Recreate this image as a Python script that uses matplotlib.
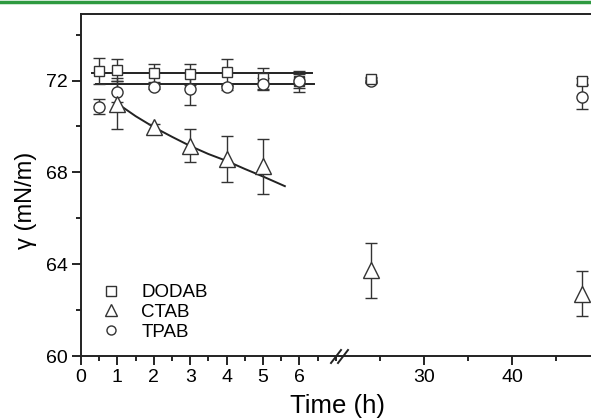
import matplotlib
matplotlib.use("Agg")
import matplotlib.pyplot as plt
from matplotlib.lines import Line2D
from matplotlib.ticker import MultipleLocator

plt.rcParams['font.family'] = ['Liberation Sans', 'DejaVu Sans']

# 短時間側のデータ (h)
t_short = [0.5, 1, 2, 3, 4, 5, 6]
dodab = [72.42, 72.46, 72.32, 72.27, 72.36, 72.10, 71.97]
dodab_err = [0.55, 0.5, 0.4, 0.45, 0.6, 0.45, 0.45]
tpab = [70.87, 71.52, 71.74, 71.62, 71.71, 71.85, 71.97]
tpab_err = [0.33, 0.45, 0.1, 0.7, 0.1, 0.25, 0.3]
t_ctab = [1, 2, 3, 4, 5]
ctab = [71.0, 69.97, 69.17, 68.6, 68.26]
ctab_err = [1.1, 0.15, 0.7, 1.0, 1.2]

# 長時間側のデータ
t_long = [24, 48]
dodab_long = [72.05, 71.97]
dodab_long_err = [0.1, 0.15]
tpab_long = [72.0, 71.3]
tpab_long_err = [0.1, 0.55]
ctab_long = [63.74, 62.72]
ctab_long_err = [1.2, 0.97]

# フィット線
dodab_fit_x = [0.3, 6.35]
dodab_fit = 72.32
tpab_fit_x = [0.4, 6.4]
tpab_fit = 71.85
ctab_fit_x = [1, 1.5, 2, 2.5, 3, 3.5, 4, 4.5, 5, 5.6]
ctab_fit_y = [71.0, 70.45, 69.97, 69.55, 69.15, 68.8, 68.5, 68.15, 67.82, 67.4]

W, H = 591, 419
fig = plt.figure(figsize=(W / 100, H / 100), dpi=100)

# 上部の緑線
fig.add_artist(Line2D([0, 1], [1 - 2.5 / H, 1 - 2.5 / H], color='#2e9a40', lw=2.5,
                      transform=fig.transFigure))

bottom = (H - 356) / H
height = 342 / H
ax1 = fig.add_axes([81 / W, bottom, 259 / W, height])
ax2 = fig.add_axes([340 / W, bottom, 270 / W, height])

c = '#333333'
mk = dict(mfc='white', mec=c, mew=1.0, ls='none', zorder=3)
eb = dict(fmt='none', ecolor=c, elinewidth=1.0, capsize=4, capthick=1.0, zorder=2)

for ax in (ax1, ax2):
    ax.set_ylim(60, 74.9)
    ax.tick_params(which='both', direction='out', width=1.2, labelsize=14, top=False, right=False)
    ax.tick_params(which='major', length=6.5, pad=3)
    ax.tick_params(which='minor', length=3.5)
    for s in ax.spines.values():
        s.set_linewidth(1.4)
        s.set_color('#222222')
    ax.spines['right'].set_visible(False)

ax1.set_xlim(0, 259 / 36.4)
ax1.xaxis.set_minor_locator(MultipleLocator(0.5))
ax1.set_xticks([0, 1, 2, 3, 4, 5, 6])
ax1.yaxis.set_major_locator(MultipleLocator(4))
ax1.yaxis.set_minor_locator(MultipleLocator(2))

ax2.set_xlim(20.45, 20.45 + 270 / 8.8)
ax2.set_xticks([30, 40])
ax2.set_xticks([25, 35, 45], minor=True)
ax2.spines['left'].set_visible(False)
ax2.tick_params(axis='y', which='both', left=False, labelleft=False)

# 左側
ax1.plot(dodab_fit_x, [dodab_fit, dodab_fit], color='#222222', lw=1.4, zorder=1)
ax1.plot(tpab_fit_x, [tpab_fit, tpab_fit], color='#222222', lw=1.4, zorder=1)
ax1.plot(ctab_fit_x, ctab_fit_y, color='#222222', lw=1.4, zorder=1)

ax1.errorbar(t_short, dodab, yerr=dodab_err, **eb)
ax1.errorbar(t_short, tpab, yerr=tpab_err, **eb)
ax1.errorbar(t_ctab, ctab, yerr=ctab_err, **eb)
ax1.plot(t_short, dodab, marker='s', ms=7.5, **mk)
ax1.plot(t_short, tpab, marker='o', ms=8, **mk)
ax1.plot(t_ctab, ctab, marker='^', ms=11, **mk)

# 右側
ax2.errorbar(t_long, dodab_long, yerr=dodab_long_err, **eb)
ax2.errorbar(t_long, tpab_long, yerr=tpab_long_err, **eb)
ax2.errorbar(t_long, ctab_long, yerr=ctab_long_err, **eb)
ax2.plot(t_long, tpab_long, marker='o', ms=8, **mk)
ax2.plot(t_long, dodab_long, marker='s', ms=7, **mk)
ax2.plot(t_long, ctab_long, marker='^', ms=11, **mk)

fig.text(26 / W, 1 - 200 / H, 'γ (mN/m)', fontsize=17, rotation=90, ha='center', va='center')
fig.text(337 / W, 1 - 406 / H, 'Time (h)', fontsize=18.5, ha='center', va='center')

# 軸の切れ目マーク
for x0 in (331, 338):
    fig.add_artist(Line2D([x0 / W, (x0 + 10) / W], [1 - 363 / H, 1 - 350 / H],
                          color='#222222', lw=1.4, transform=fig.transFigure))

handles = [
    Line2D([], [], marker='s', ms=6.5, **mk),
    Line2D([], [], marker='^', ms=9, **mk),
    Line2D([], [], marker='o', ms=6.5, **mk),
]
ax1.legend(handles, ['DODAB', 'CTAB', 'TPAB'], loc='upper left',
           bbox_to_anchor=(-0.02, 0.26), frameon=False, fontsize=13.5,
           handlelength=2.0, handletextpad=0.6, labelspacing=0.15)

fig.savefig('out.png', dpi=100)
